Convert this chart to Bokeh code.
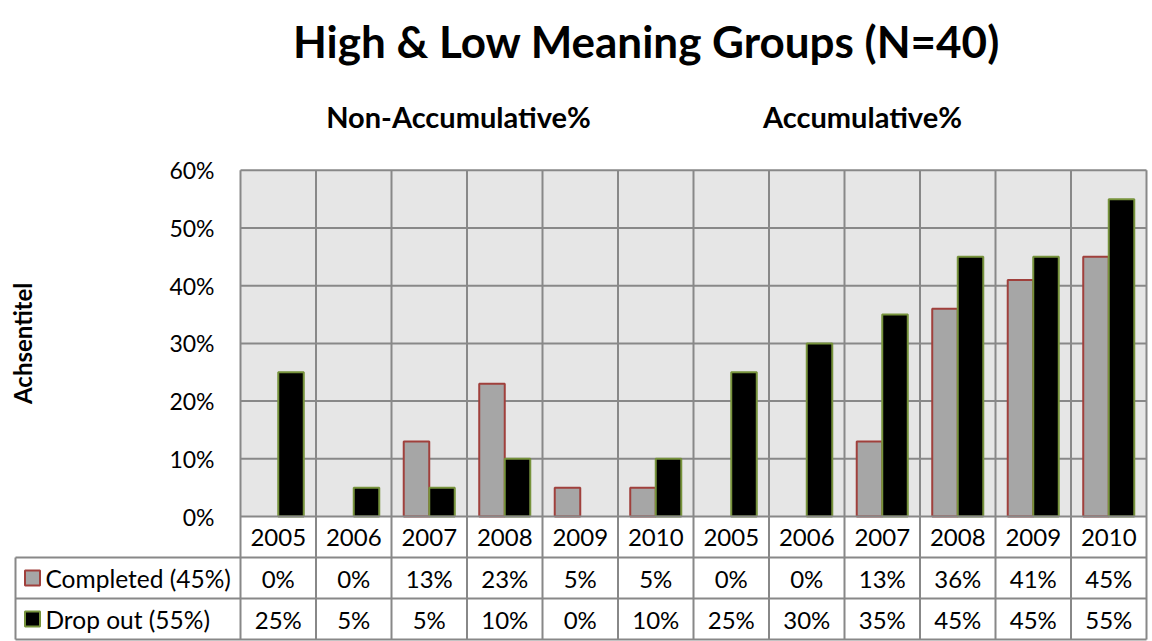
from math import pi
from bokeh.plotting import figure
from bokeh.models import Range1d, ColumnDataSource
from bokeh.core.properties import value
from bokeh.embed import file_html
from bokeh.resources import INLINE

# ---------------- data ----------------
years = ["2005", "2006", "2007", "2008", "2009", "2010",
         "2005", "2006", "2007", "2008", "2009", "2010"]
completed = [0, 0, 13, 23, 5, 5, 0, 0, 13, 36, 41, 45]
dropout = [25, 5, 5, 10, 0, 10, 25, 30, 35, 45, 45, 55]
series_names = ["Completed (45%)", "Drop out (55%)"]
y_ticks = [0, 10, 20, 30, 40, 50, 60]
chart_title = "High & Low Meaning Groups (N=40)"
group_titles = ["Non-Accumulative%", "Accumulative%"]
y_axis_title = "Achsentitel"

# ---------------- layout (pixels) ----------------
W, H = 1152, 641
PX_X = 75.5           # pixels per category column
X0_PX = 240           # figure pixel of the plot-area left edge
PX_Y = 5.77           # pixels per percentage point
Y0_PX = 516           # figure pixel of 0 %
ROW_PX = 41.0         # table row height

def ux(px):           # figure pixel -> x data
    return (px - X0_PX) / PX_X

def uy(py):           # figure pixel (from top) -> y data
    return (Y0_PX - py) / PX_Y

x_start, x_end = ux(0), ux(W)
y_end, y_start = uy(0), uy(H)
R = ROW_PX / PX_Y
n = len(years)
ymax = max(y_ticks)
leg_left = ux(15)

FONT = "Lato"
GRID = "#888888"

p = figure(width=W, height=H, x_range=Range1d(x_start, x_end),
           y_range=Range1d(y_start, y_end), output_backend="svg",
           toolbar_location=None, min_border=0, outline_line_color=None,
           background_fill_color="white", border_fill_color="white")
p.xaxis.visible = False
p.yaxis.visible = False
p.xgrid.visible = False
p.ygrid.visible = False

# plot area background
p.quad(left=[0], right=[n], bottom=[0], top=[ymax], fill_color="#E6E6E6", line_color=None)

# horizontal gridlines (above 0)
p.segment(x0=[0] * (len(y_ticks) - 1), x1=[n] * (len(y_ticks) - 1),
          y0=y_ticks[1:], y1=y_ticks[1:], line_color=GRID, line_width=2)
# vertical gridlines / table column lines
p.segment(x0=list(range(n + 1)), x1=list(range(n + 1)),
          y0=[-3 * R] * (n + 1), y1=[ymax] * (n + 1), line_color=GRID, line_width=2)

# bars
bw = 0.338
xs = [i + 0.5 for i in range(n)]
src_c = ColumnDataSource(dict(x=[x - bw / 2 for x in xs], top=completed,
                              la=[0 if v == 0 else 1 for v in completed]))
src_d = ColumnDataSource(dict(x=[x + bw / 2 for x in xs], top=dropout,
                              la=[0 if v == 0 else 1 for v in dropout]))
p.vbar(x="x", top="top", bottom=0, width=bw, source=src_c,
       fill_color="#A6A6A6", line_color="#A0403C", line_width=2, line_alpha="la")
p.vbar(x="x", top="top", bottom=0, width=bw, source=src_d,
       fill_color="#000000", line_color="#77933C", line_width=2, line_alpha="la")

# table lines
p.segment(x0=[0, leg_left, leg_left, leg_left], x1=[n, n, n, n],
          y0=[0, -R, -2 * R, -3 * R], y1=[0, -R, -2 * R, -3 * R],
          line_color=GRID, line_width=2)
p.segment(x0=[leg_left], x1=[leg_left], y0=[-R], y1=[-3 * R], line_color=GRID, line_width=2)

# table text
txt = dict(text_font=value(FONT), text_font_size="24px", text_color="#000000",
           text_baseline="middle")
p.text(x=xs, y=[-R / 2] * n, text=years, text_align="center", **txt)
p.text(x=xs, y=[-1.5 * R] * n, text=[f"{v}%" for v in completed], text_align="center", **txt)
p.text(x=xs, y=[-2.5 * R] * n, text=[f"{v}%" for v in dropout], text_align="center", **txt)

# legend keys in table
p.scatter(x=[ux(32)], y=[-1.5 * R], marker="square", size=15,
          fill_color="#A6A6A6", line_color="#A0403C", line_width=2)
p.scatter(x=[ux(32)], y=[-2.5 * R], marker="square", size=15,
          fill_color="#000000", line_color="#77933C", line_width=2)
p.text(x=[ux(45)] * 2, y=[-1.5 * R, -2.5 * R], text=series_names, text_align="left",
       text_font=value(FONT), text_font_size="24.5px", text_color="#000000",
       text_baseline="middle")

# y tick labels
p.text(x=[ux(214)] * len(y_ticks), y=y_ticks, text=[f"{t}%" for t in y_ticks],
       text_align="right", text_font=value(FONT), text_font_size="23px",
       text_color="#000000", text_baseline="middle")

# axis title
p.text(x=[ux(22)], y=[ymax / 2], text=[y_axis_title], angle=pi / 2,
       text_font=value(FONT), text_font_size="24px", text_font_style="bold",
       text_align="center", text_baseline="middle")

# group titles
p.text(x=[ux(458), ux(862)], y=[uy(116)] * 2, text=group_titles,
       text_font=value(FONT), text_font_size="29px", text_font_style="bold",
       text_align="center", text_baseline="middle")

# chart title
p.text(x=[ux(646)], y=[uy(40)], text=[chart_title],
       text_font=value(FONT), text_font_size="44px", text_font_style="bold",
       text_align="center", text_baseline="middle")

open("out.html", "w").write(file_html(p, INLINE))
